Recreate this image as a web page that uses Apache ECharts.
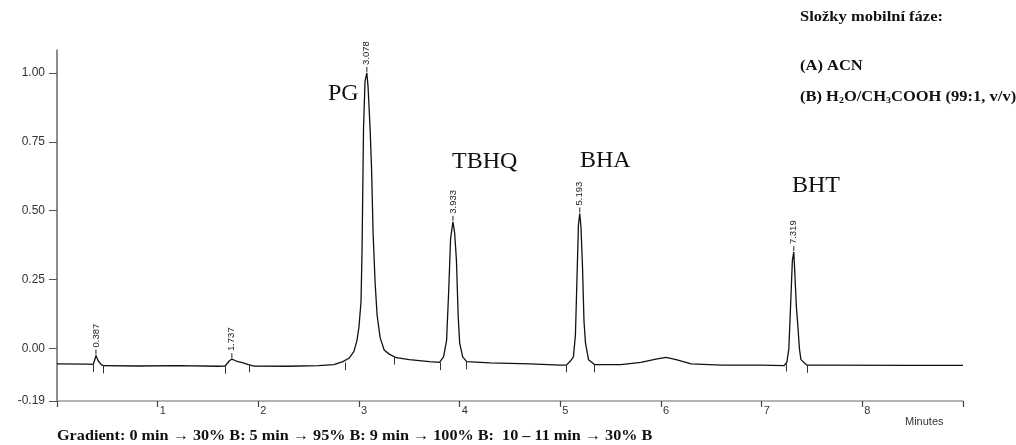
<!DOCTYPE html>
<html>
<head>
<meta charset="utf-8">
<script src="https://cdn.jsdelivr.net/npm/echarts@6/dist/echarts.min.js"></script>
<style>
  html, body { margin: 0; padding: 0; background: #fff; }
  #chart { width: 1016px; height: 445px; }
</style>
</head>
<body>
<div id="chart"></div>
<script>
// chromatogram: time (min) and signal
var times = [
  0, 0.30, 0.36, 0.38, 0.387, 0.41, 0.44, 0.46, 0.8, 1.2, 1.6, 1.67, 1.71, 1.737, 1.78, 1.85, 1.90, 1.95,
  2.3, 2.6, 2.75, 2.84, 2.90, 2.95, 2.98, 3.0, 3.02, 3.03, 3.045, 3.06, 3.078, 3.09, 3.11, 3.125, 3.14,
  3.16, 3.18, 3.21, 3.25, 3.30, 3.37, 3.5, 3.7, 3.80, 3.84, 3.87, 3.89, 3.91, 3.933, 3.95, 3.968, 3.985,
  4.0, 4.03, 4.07, 4.3, 4.7, 5.0, 5.06, 5.10, 5.13, 5.15, 5.165, 5.18, 5.193, 5.205, 5.22, 5.235, 5.25,
  5.28, 5.34, 5.6, 5.8, 5.95, 6.05, 6.15, 6.3, 6.6, 7.0, 7.22, 7.25, 7.27, 7.29, 7.305, 7.319, 7.33,
  7.345, 7.36, 7.375, 7.39, 7.45, 7.6, 8.5, 9.0
];
var signal = [
  -0.055, -0.056, -0.057, -0.035, -0.025, -0.045, -0.058, -0.062, -0.063, -0.062, -0.064, -0.063, -0.045, -0.038, -0.045, -0.052, -0.058, -0.063,
  -0.064, -0.062, -0.058, -0.047, -0.035, -0.01, 0.03, 0.08, 0.17, 0.35, 0.8, 0.97, 1.0, 0.95, 0.8, 0.65, 0.42,
  0.24, 0.12, 0.04, -0.005, -0.02, -0.033, -0.04, -0.047, -0.05, -0.03, 0.03, 0.2, 0.4, 0.46, 0.42, 0.32, 0.12,
  0.02, -0.03, -0.047, -0.052, -0.055, -0.06, -0.06, -0.045, -0.03, 0.05, 0.25, 0.45, 0.49, 0.44, 0.3, 0.1, 0.02,
  -0.04, -0.058, -0.058, -0.05, -0.038, -0.032, -0.04, -0.055, -0.06, -0.06, -0.062, -0.05, 0.0, 0.18, 0.32, 0.35, 0.27,
  0.15, 0.08, 0.0, -0.04, -0.06, -0.06, -0.061, -0.061
];

// retention times printed above the peaks
var rtTimes = [0.387, 1.737, 3.078, 3.933, 5.193, 7.319];
var rtTops = [-0.025, -0.038, 1.0, 0.46, 0.49, 0.35];

// integration marks under the baseline
var markTimes = [0.36, 0.46, 1.67, 1.91, 2.86, 3.35, 3.81, 4.07, 5.06, 5.34, 7.24, 7.45];
var markTops = [-0.057, -0.062, -0.063, -0.058, -0.05, -0.03, -0.05, -0.047, -0.058, -0.058, -0.055, -0.06];

var yTicks = [-0.19, 0, 0.25, 0.5, 0.75, 1.0];
var xTicks = [0, 1, 2, 3, 4, 5, 6, 7, 8, 9];

var serif = '"Liberation Serif", "Times New Roman", serif';
var sans = '"Liberation Sans", Arial, sans-serif';

var chart = echarts.init(document.getElementById('chart'), null, { renderer: 'canvas' });

var trace = times.map(function (t, i) { return [t, signal[i]]; });

var marks = [];
markTimes.forEach(function (t, i) {
  marks.push([{ coord: [t, markTops[i]] }, { coord: [t, markTops[i] - 0.028] }]);
});

var option = {
  animation: false,
  backgroundColor: '#fff',
  grid: { left: 57, right: 53, top: 50, bottom: 44 },
  xAxis: {
    type: 'value',
    min: 0,
    max: 9,
    interval: 1,
    axisLine: { onZero: false, lineStyle: { color: '#9a9a9a', width: 1.5 } },
    axisTick: { length: 6, lineStyle: { color: '#444', width: 1.2 }, customValues: xTicks },
    axisLabel: {
      customValues: xTicks,
      formatter: function (v) { return (v === 0 || v === 9) ? '' : String(v); },
      align: 'left',
      margin: 4,
      padding: [0, 0, 0, 2],
      color: '#333',
      fontSize: 11,
      fontFamily: sans
    },
    splitLine: { show: false }
  },
  yAxis: {
    type: 'value',
    min: -0.19,
    max: 1.083,
    axisLine: { show: true, onZero: false, lineStyle: { color: '#666', width: 1.5 } },
    axisTick: { show: true, length: 8, lineStyle: { color: '#555' }, customValues: yTicks },
    axisLabel: {
      customValues: yTicks,
      formatter: function (v) { return v.toFixed(2); },
      margin: 12,
      color: '#333',
      fontSize: 12,
      fontFamily: sans
    },
    splitLine: { show: false }
  },
  series: [
    {
      type: 'line',
      data: trace,
      showSymbol: false,
      lineStyle: { color: '#111', width: 1.3 },
      markLine: {
        silent: true,
        symbol: ['none', 'none'],
        label: { show: false },
        lineStyle: { color: '#333', width: 1, type: 'solid' },
        data: marks
      }
    },
    {
      type: 'custom',
      data: rtTimes.map(function (t, i) { return [t, rtTops[i]]; }),
      renderItem: function (params, api) {
        var p = api.coord([api.value(0), api.value(1)]);
        return {
          type: 'group',
          children: [
            { type: 'line', shape: { x1: p[0], y1: p[1] - 1, x2: p[0], y2: p[1] - 6 }, style: { stroke: '#222', lineWidth: 1 } },
            {
              type: 'text',
              x: p[0],
              y: p[1] - 8,
              rotation: Math.PI / 2,
              style: {
                text: rtTimes[params.dataIndex].toFixed(3),
                align: 'left',
                verticalAlign: 'middle',
                fontSize: 9.5,
                fontFamily: sans,
                fill: '#222'
              }
            }
          ]
        };
      }
    }
  ],
  graphic: [
    { type: 'text', left: 328, top: 82, style: { text: 'PG', fontSize: 24, fontFamily: serif, fill: '#111' } },
    { type: 'text', left: 452, top: 150, style: { text: 'TBHQ', fontSize: 24, fontFamily: serif, fill: '#111' } },
    { type: 'text', left: 580, top: 149, style: { text: 'BHA', fontSize: 24, fontFamily: serif, fill: '#111' } },
    { type: 'text', left: 792, top: 174, style: { text: 'BHT', fontSize: 24, fontFamily: serif, fill: '#111' } },
    { type: 'text', x: 800, y: 10, scaleX: 1.1, style: { text: 'Složky mobilní fáze:', fontSize: 15, fontWeight: 'bold', fontFamily: serif, fill: '#111' } },
    { type: 'text', x: 800, y: 59, scaleX: 1.1, style: { text: '(A) ACN', fontSize: 15, fontWeight: 'bold', fontFamily: serif, fill: '#111' } },
    {
      type: 'text', x: 800, y: 90, scaleX: 1.1,
      style: {
        text: '(B) H{s|2}O/CH{s|3}COOH (99:1, v/v)',
        fontSize: 15, fontWeight: 'bold', fontFamily: serif, fill: '#111',
        rich: { s: { fontSize: 9, fontWeight: 'bold', fontFamily: serif, fill: '#111', padding: [6, 0, 0, 0] } }
      }
    },
    { type: 'text', left: 905, top: 416, style: { text: 'Minutes', fontSize: 11, fontFamily: sans, fill: '#333' } },
    {
      type: 'text', x: 57, y: 429, scaleX: 1.08,
      style: {
        text: 'Gradient: 0 min → 30% B: 5 min → 95% B: 9 min → 100% B:  10 – 11 min → 30% B',
        fontSize: 15, fontWeight: 'bold', fontFamily: serif, fill: '#111'
      }
    }
  ]
};

chart.setOption(option);
</script>
</body>
</html>
